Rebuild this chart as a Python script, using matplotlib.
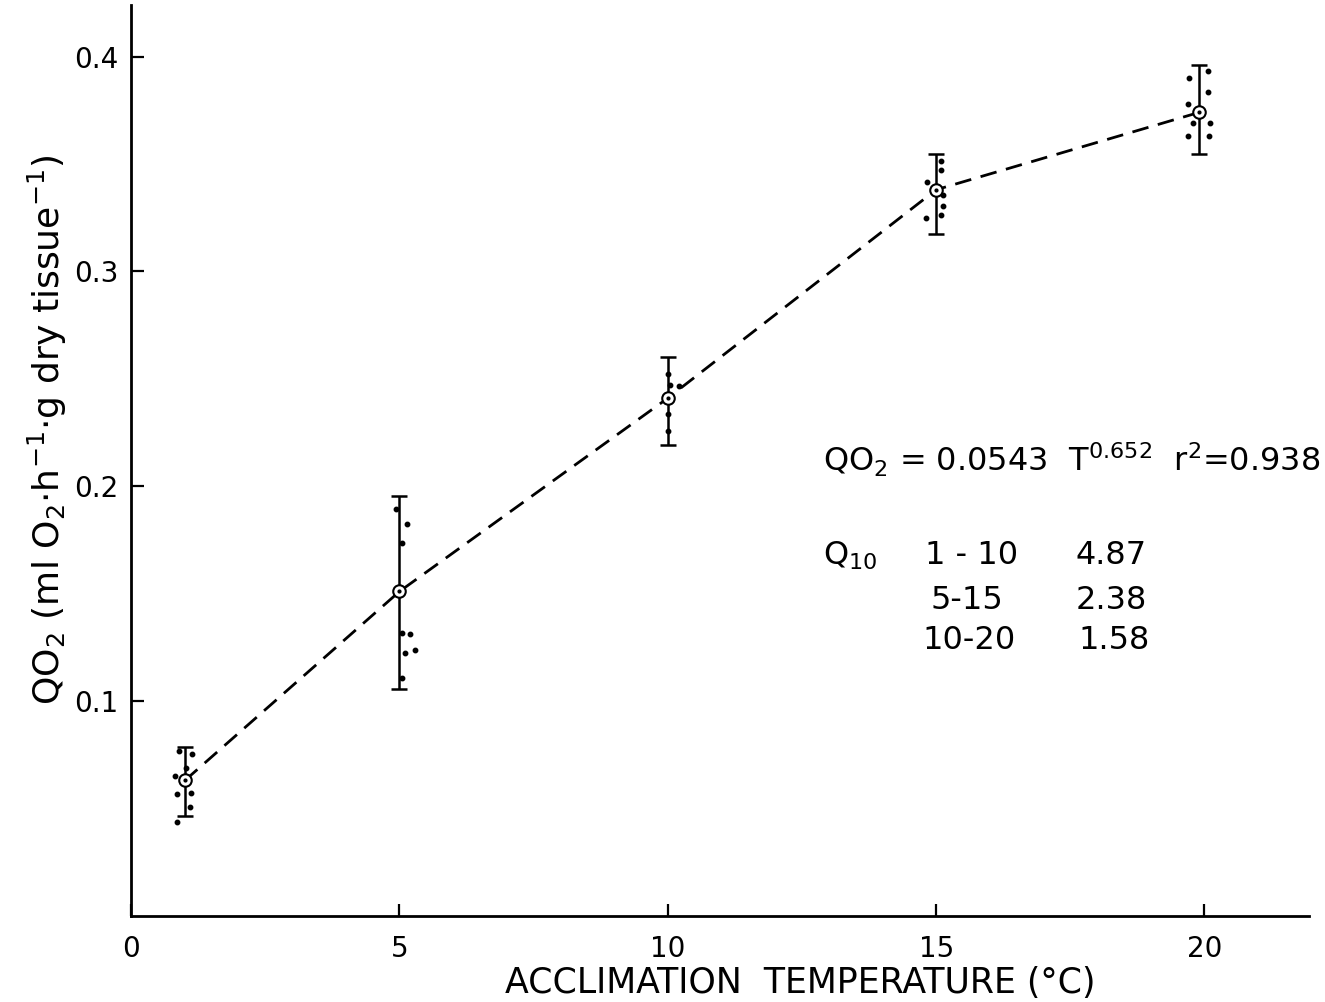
import matplotlib.pyplot as plt
import numpy as np

# acclimation temperature vs QO2 (means, bar ends, individual values)
temp = [1, 5, 10, 15, 19.9]
qo2_mean = [0.063, 0.151, 0.241, 0.338, 0.374]
bar_low = [0.0467, 0.1056, 0.2192, 0.3173, 0.3547]
bar_high = [0.0785, 0.1953, 0.2603, 0.3547, 0.3963]

dots_t = [0.90, 1.14, 1.03, 0.82, 0.86, 1.11, 1.09, 0.86,
          4.93, 5.14, 5.04, 5.04, 5.19, 5.10, 5.29, 5.04,
          10.0, 10.05, 10.2, 10.0, 10.0,
          15.09, 15.09, 14.83, 15.13, 15.13, 15.09, 14.81,
          20.06, 19.72, 20.07, 19.70, 19.79, 20.11, 19.70, 20.09]
dots_q = [0.0766, 0.0752, 0.0687, 0.0650, 0.0565, 0.0570, 0.0505, 0.0439,
          0.1893, 0.1822, 0.1734, 0.1318, 0.1313, 0.1224, 0.1238, 0.1107,
          0.2523, 0.2472, 0.2467, 0.2336, 0.2257,
          0.3514, 0.3472, 0.3416, 0.3355, 0.3304, 0.3262, 0.3248,
          0.3935, 0.3902, 0.3836, 0.3780, 0.3692, 0.3692, 0.3631, 0.3631]

xticks = [0, 5, 10, 15, 20]
yticks = [0.1, 0.2, 0.3, 0.4]

fig = plt.figure(figsize=(13.25, 10.02), dpi=100)
ax = fig.add_axes([0.099, 0.086, 0.889, 0.909])

mean = np.array(qo2_mean)
yerr = [mean - np.array(bar_low), np.array(bar_high) - mean]
ax.errorbar(temp, qo2_mean, yerr=yerr, fmt='none', ecolor='black',
            elinewidth=1.8, capsize=6, capthick=1.8, zorder=2)
ax.plot(temp, qo2_mean, color='black', lw=2, dashes=(6, 3.5), zorder=3)
ax.plot(dots_t, dots_q, 'o', color='black', ms=3.2, zorder=4)
ax.plot(temp, qo2_mean, 'o', mfc='white', mec='black', mew=1.5, ms=9, zorder=5)
ax.plot(temp, qo2_mean, 'o', color='black', ms=2, zorder=6)

ax.set_xlim(0, 21.95)
ax.set_ylim(0, 0.424)
ax.set_xticks(xticks)
ax.set_yticks(yticks)
ax.set_xticklabels([str(t) for t in xticks])
ax.set_yticklabels(['0.1', '0.2', '0.3', '0.4'])
ax.tick_params(direction='in', length=9, width=1.6, labelsize=20)
ax.tick_params(axis='x', pad=14)
ax.tick_params(axis='y', pad=9)
for s in ['top', 'right']:
    ax.spines[s].set_visible(False)
for s in ['left', 'bottom']:
    ax.spines[s].set_linewidth(2)

fig.text(800 / 1325, 1 - 993 / 1002, 'ACCLIMATION  TEMPERATURE (°C)',
         fontsize=25, ha='center', va='baseline')
fig.text(26 / 1325, 1 - 430 / 1002,
         r'QO$_2$ (ml O$_2$$\cdot$h$^{-1}$$\cdot$g dry tissue$^{-1}$)',
         fontsize=26, rotation=90, ha='left', va='center')

ax.text(12.9, 0.207, r'QO$_2$ = 0.0543  T$^{0.652}$  r$^2$=0.938', fontsize=23)
ax.text(12.9, 0.1636, r'Q$_{10}$', fontsize=23)
ax.text(14.8, 0.1636, '1 - 10', fontsize=23)
ax.text(17.6, 0.1636, '4.87', fontsize=23)
ax.text(14.9, 0.143, '5-15', fontsize=23)
ax.text(17.6, 0.143, '2.38', fontsize=23)
ax.text(14.75, 0.1243, '10-20', fontsize=23)
ax.text(17.65, 0.1243, '1.58', fontsize=23)

fig.savefig('out.png', dpi=100)
